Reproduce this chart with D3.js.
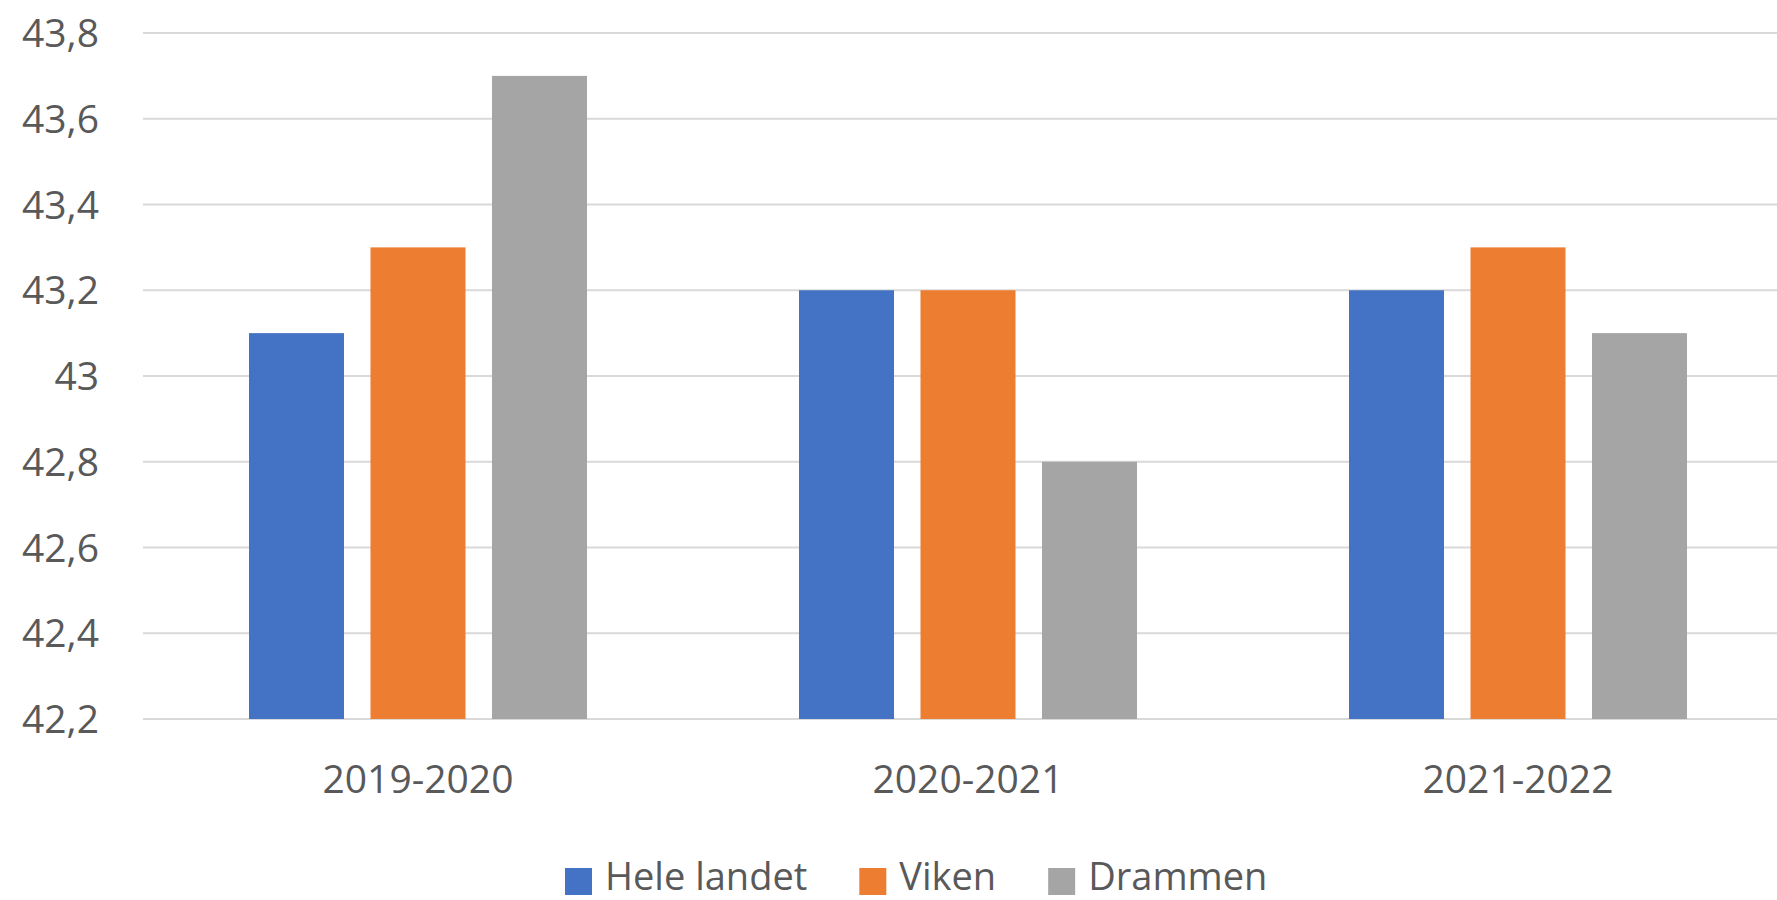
<!DOCTYPE html>
<html>
<head>
<meta charset="utf-8">
<style>
  body { margin: 0; background: #fff; }
  text { font-family: "Open Sans", "Noto Sans", sans-serif; fill: #595959; }
</style>
</head>
<body>
<svg width="1777" height="900"></svg>
<script src="https://d3js.org/d3.v7.min.js"></script>
<script>
  var categories = ["2019-2020", "2020-2021", "2021-2022"];
  var series = ["Hele landet", "Viken", "Drammen"];
  var heleLandet = [43.1, 43.2, 43.2];
  var viken = [43.3, 43.2, 43.3];
  var drammen = [43.7, 42.8, 43.1];
  var yTicks = [42.2, 42.4, 42.6, 42.8, 43, 43.2, 43.4, 43.6, 43.8];
  var colors = ["#4472c4", "#ed7d31", "#a5a5a5"];

  var values = [heleLandet, viken, drammen];
  var data = categories.map(function(c, i) {
    return { cat: c, vals: series.map(function(s, j) { return { name: s, value: values[j][i], color: colors[j] }; }) };
  });

  var svg = d3.select("svg");
  var plotLeft = 143, plotRight = 1793, plotTop = 33, plotBottom = 719;

  var x0 = d3.scaleBand().domain(categories).range([plotLeft, plotRight]);
  var x1 = d3.scaleBand().domain(series).range([106, 444]).paddingInner(0.218);
  var y = d3.scaleLinear().domain([42.2, 43.8]).range([plotBottom, plotTop]);

  // gridlines
  svg.append("g")
    .selectAll("line")
    .data(yTicks)
    .join("line")
    .attr("x1", plotLeft).attr("x2", plotRight)
    .attr("y1", function(d) { return y(d); })
    .attr("y2", function(d) { return y(d); })
    .attr("stroke", "#d9d9d9")
    .attr("stroke-width", 2);

  // y labels
  svg.append("g")
    .selectAll("text")
    .data(yTicks)
    .join("text")
    .attr("x", 99)
    .attr("y", function(d) { return y(d); })
    .attr("dy", "0.36em")
    .attr("text-anchor", "end")
    .attr("font-size", 39)
    .text(function(d) { return String(d).replace(".", ","); });

  // bars
  var groups = svg.append("g")
    .selectAll("g")
    .data(data)
    .join("g")
    .attr("transform", function(d) { return "translate(" + x0(d.cat) + ",0)"; });

  groups.selectAll("rect")
    .data(function(d) { return d.vals; })
    .join("rect")
    .attr("x", function(d) { return x1(d.name); })
    .attr("width", x1.bandwidth())
    .attr("y", function(d) { return y(d.value); })
    .attr("height", function(d) { return y(42.2) - y(d.value); })
    .attr("fill", function(d) { return d.color; });

  // x labels
  svg.append("g")
    .selectAll("text")
    .data(categories)
    .join("text")
    .attr("x", function(d) { return x0(d) + x0.bandwidth() / 2; })
    .attr("y", 793)
    .attr("text-anchor", "middle")
    .attr("font-size", 39)
    .text(function(d) { return d; });

  // legend
  var legend = svg.append("g");
  var lx = 565;
  series.forEach(function(s, i) {
    legend.append("rect")
      .attr("x", lx).attr("y", 868)
      .attr("width", 27).attr("height", 27)
      .attr("fill", colors[i]);
    var t = legend.append("text")
      .attr("x", lx + 40)
      .attr("y", 890)
      .attr("font-size", 38)
      .text(s);
    lx += 40 + t.node().getComputedTextLength() + 52;
  });
</script>
</body>
</html>
